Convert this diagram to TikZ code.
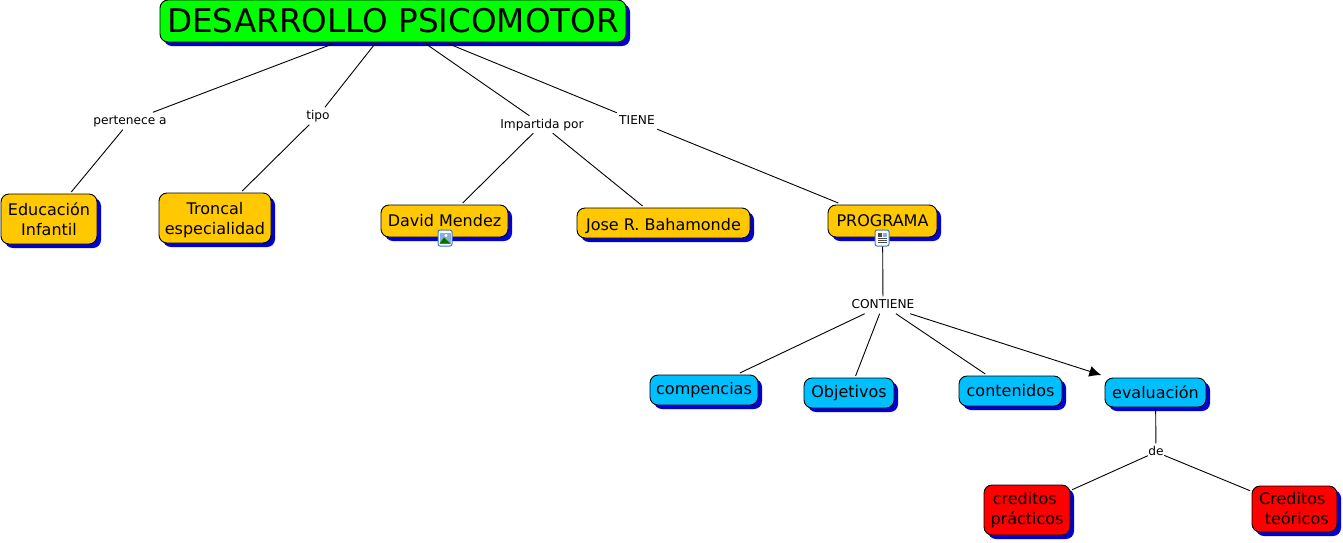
\documentclass[tikz,border=0pt]{standalone}
\usepackage{fontspec}
\setmainfont{DejaVu Sans}
\usetikzlibrary{shadows, arrows.meta}
\definecolor{mapgreen}{RGB}{0,255,0}
\definecolor{maporange}{RGB}{255,200,0}
\definecolor{mapcyan}{RGB}{0,191,255}
\definecolor{mapred}{RGB}{255,0,0}
\definecolor{mapshadow}{RGB}{0,0,210}
\definecolor{mapicon}{RGB}{60,120,200}
\tikzset{
  concept/.style = {draw=black, line width=0.9pt, rounded corners=8pt, inner sep=0, outer sep=2pt, align=center,
    font=\fontsize{16}{20}\selectfont,
    drop shadow={shadow xshift=4pt, shadow yshift=-4pt, fill=mapshadow, opacity=1}},
  linklabel/.style = {inner sep=0, text height=12pt, text depth=5pt, font=\fontsize{12.2}{14}\selectfont},
  link/.style = {draw=black, line width=0.9pt},
  iconbox/.style = {draw=mapicon, fill=white, line width=1pt, rounded corners=2pt, minimum width=14pt, minimum height=16pt, inner sep=0},
}

\begin{document}
\begin{tikzpicture}[x=1pt, y=1pt]
        \useasboundingbox (0,0) rectangle (1343,-542);
        % link words first, the boxes go on top of the lines
        \foreach \N/\x/\y/\w/\t in {
          lblPertenece/130/-121/72/pertenece a,
          lblTipo/318/-116/24/tipo,
          lblImpartida/542/-124.5/86/Impartida por,
          lblTiene/637/-121/40/TIENE,
          lblContiene/883/-305/66/CONTIENE,
          lblDe/1156/-452/16/de%
        }{
          \node (\N) [linklabel, minimum width=\w pt] at (\x,\y) {\t};
        }
        % boxes: name, centre, size, colour, text
        \foreach \N/\x/\y/\w/\h/\c/\t in {
          educacion/49/-219/96/50/maporange/{\rule{0pt}{14pt}Educación\\Infantil},
          troncal/215/-218/112/50/maporange/{\rule{0pt}{16pt}Troncal\\especialidad},
          david/444.5/-221/127/32/maporange/{David Mendez},
          jose/663.5/-223/173/30/maporange/{\rule{0pt}{18pt}Jose R. Bahamonde},
          programa/882.5/-221/109/32/maporange/{PROGRAMA},
          compencias/704/-390/108/30/mapcyan/{compencias},
          objetivos/849/-393/90/30/mapcyan/{Objetivos},
          contenidos/1010.5/-391/103/30/mapcyan/{contenidos},
          evaluacion/1155.5/-392.5/101/29/mapcyan/{evaluación},
          practicos/1027/-510/86/50/mapred/{creditos\phantom{i}\\prácticos},
          teoricos/1294.5/-509/85/46/mapred/{Creditos\phantom{i}\\\phantom{i}teóricos}%
        }{
          \node (\N) [concept, minimum width=\w pt, minimum height=\h pt, fill=\c] at (\x,\y) {\t};
        }
        \node (title) [concept, minimum width=466pt, minimum height=42pt, fill=mapgreen,
          font=\fontsize{32.6}{36}\selectfont] at (393,-21) {DESARROLLO PSICOMOTOR};

        \foreach \A/\B in {
          title/lblPertenece, title/lblTipo, title/lblImpartida, title/lblTiene,
          lblPertenece/educacion, lblTipo/troncal, lblImpartida/david, lblImpartida/jose,
          lblTiene/programa, programa/lblContiene, lblContiene/compencias,
          lblContiene/objetivos, lblContiene/contenidos, evaluacion/lblDe,
          lblDe/practicos, lblDe/teoricos%
        }{
          \draw [link] (\A) -- (\B);
        }
        \draw [link, -{Latex[length=12pt, width=11pt]}, shorten >=3pt] (lblContiene) -- (evaluacion);

        % resource icons on the lower edge of two boxes
        \node (iconImage) [iconbox] at (445,-238) {};
        \fill [mapicon!60] (439.5,-232.5) rectangle (450.5,-243.5);
        \fill [white] (446,-235.5) circle (1.6pt);
        \fill [green!45!black] (439.5,-243.5) -- (444,-237.5) -- (450.5,-243.5) -- cycle;
        \node (iconDoc) [iconbox] at (882,-238) {};
        \fill [black!70] (877.5,-232.5) rectangle (882,-236.5);
        \fill [mapicon!60] (882.5,-232.5) rectangle (887,-236.5);
        \foreach \y in {-238.5,-240.5,-242.5} {
          \draw [black!70, line width=0.8pt] (877.5,\y) -- (887,\y);
        }
      \end{tikzpicture}
\end{document}
